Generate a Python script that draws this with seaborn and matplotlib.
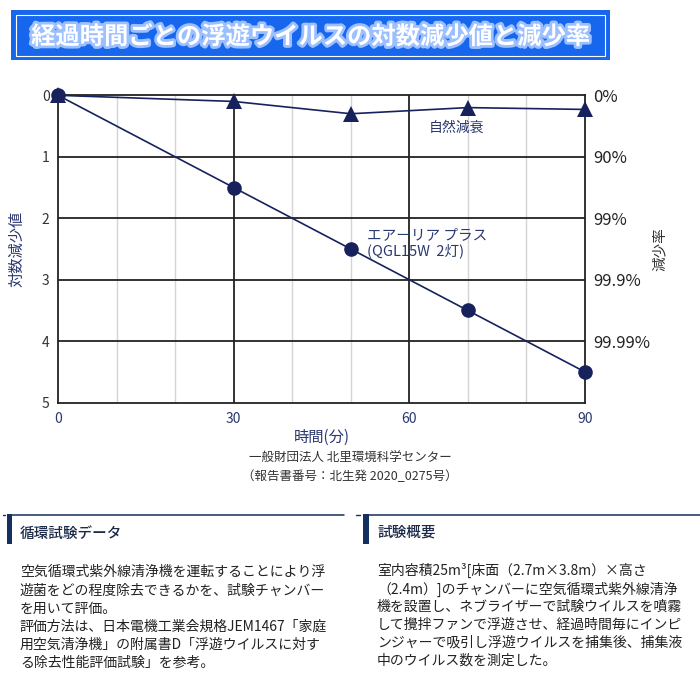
import pandas as pd
import matplotlib
matplotlib.use("Agg")
import matplotlib.pyplot as plt
import matplotlib.patheffects as pe
from matplotlib.patches import Rectangle
from matplotlib.lines import Line2D
import seaborn as sns

# data
time_min = [0, 30, 50, 70, 90]
airlia_log = [0, 1.5, 2.5, 3.5, 4.5]
natural_log = [0, 0.1, 0.3, 0.2, 0.23]
left_ticks = [0, 1, 2, 3, 4, 5]
right_ticks = [0, 1, 2, 3, 4]
right_labels = ["0%", "90%", "99%", "99.9%", "99.99%"]
x_ticks = [0, 30, 60, 90]

title = "経過時間ごとの浮遊ウイルスの対数減少値と減少率"
source_lines = ["一般財団法人 北里環境科学センター", "（報告書番号：北生発 2020_0275号）"]
left_head = "循環試験データ"
left_body = ["空気循環式紫外線清浄機を運転することにより浮",
             "遊菌をどの程度除去できるかを、試験チャンバー",
             "を用いて評価。",
             "評価方法は、日本電機工業会規格JEM1467「家庭",
             "用空気清浄機」の附属書D「浮遊ウイルスに対す",
             "る除去性能評価試験」を参考。"]
right_head = "試験概要"
right_body = ["室内容積25m³[床面（2.7m×3.8m）×高さ",
              "（2.4m）]のチャンバーに空気循環式紫外線清浄",
              "機を設置し、ネブライザーで試験ウイルスを噴霧",
              "して攪拌ファンで浮遊させ、経過時間毎にインピ",
              "ンジャーで吸引し浮遊ウイルスを捕集後、捕集液",
              "中のウイルス数を測定した。"]

sns.set_style("white")
plt.rcParams['font.family'] = ['Noto Sans CJK JP', 'DejaVu Sans']

navy = "#17225c"
W = 700.0

def fx(px):
    return px / W

def fy(py):
    return 1 - py / W

fig = plt.figure(figsize=(7, 7), dpi=100)
ax = fig.add_axes([fx(58), fy(402.7), (585 - 58) / W, (402.7 - 95.3) / W])

nat_df = pd.DataFrame({"time": time_min, "log": natural_log})
air_df = pd.DataFrame({"time": time_min, "log": airlia_log})

# grid first
for xv in [10, 20, 40, 50, 70, 80]:
    ax.axvline(xv, color="#d4d4d4", lw=1.0, zorder=0)
for xv in [30, 60]:
    ax.axvline(xv, color="#222222", lw=1.3, zorder=1)
for yv in [1, 2, 3, 4]:
    ax.axhline(yv, color="#222222", lw=1.3, zorder=1)

sns.lineplot(data=nat_df, x="time", y="log", color=navy, marker="^",
             markersize=12, markeredgewidth=0, linewidth=1.2,
             ax=ax, zorder=3, clip_on=False)
sns.lineplot(data=air_df, x="time", y="log", color=navy, marker="o",
             markersize=10.5, markeredgewidth=0, linewidth=1.2,
             ax=ax, zorder=4, clip_on=False)

ax.set_xlim(0, 90)
ax.set_ylim(5, 0)
ax.set_xticks(x_ticks)
ax.set_yticks(left_ticks)
ax.tick_params(axis="y", labelsize=10, colors="#333333", length=0, pad=6)
ax.tick_params(axis="x", labelsize=10, colors="#2a3870", length=0, pad=7)
for s in ax.spines.values():
    s.set_color("#222222")
    s.set_linewidth(1.3)
ax.set_xlabel("時間(分)", fontsize=11, color="#2a3870", labelpad=2)
ax.set_ylabel("対数減少値", fontsize=11, color="#2a3870", labelpad=12)

ax2 = ax.twinx()
ax2.set_ylim(5, 0)
ax2.set_yticks(right_ticks)
ax2.set_yticklabels(right_labels)
ax2.tick_params(axis="y", labelsize=12, colors="#222222", length=0, pad=6)
for s in ax2.spines.values():
    s.set_visible(False)
ax2.set_ylabel("減少率", fontsize=10.5, color="#333333", rotation=90, labelpad=2)

ax.text(68, 0.53, "自然減衰", fontsize=10, color="#2a3870", ha="center", va="center")
ax.text(52.8, 2.4, "エアーリア プラス\n(QGL15W  2灯)", fontsize=10.5, color="#2a3870",
        ha="left", va="center", linespacing=1.1)

# title banner
fig.patches.append(Rectangle((fx(11), fy(60)), 599 / W, 50 / W, transform=fig.transFigure,
                             facecolor="#1766ee", edgecolor="none", zorder=0))
fig.patches.append(Rectangle((fx(16), fy(55.5)), 589 / W, 40.5 / W, transform=fig.transFigure,
                             facecolor="none", edgecolor="white", lw=0.8, zorder=1))
fig.text(fx(310), fy(37), title, fontsize=17.5, fontweight="bold", color="white",
         ha="center", va="center",
         path_effects=[pe.withStroke(linewidth=4, foreground="#9cc0ff")])

# source note
fig.text(fx(350), fy(458), source_lines[0], fontsize=9, color="#333333", ha="center", va="center")
fig.text(fx(350), fy(477), source_lines[1], fontsize=9, color="#333333", ha="center", va="center")

# bottom panels
box_col = "#13305e"
fig.lines.append(Line2D([fx(3), fx(5)], [fy(515), fy(515)], transform=fig.transFigure, color=box_col, lw=1))
fig.lines.append(Line2D([fx(12), fx(344)], [fy(515), fy(515)], transform=fig.transFigure, color=box_col, lw=1.1))
fig.patches.append(Rectangle((fx(7), fy(544)), 5 / W, 30 / W, transform=fig.transFigure,
                             facecolor=box_col, edgecolor="none"))
fig.lines.append(Line2D([fx(356), fx(360)], [fy(515), fy(515)], transform=fig.transFigure, color=box_col, lw=1))
fig.lines.append(Line2D([fx(369), fx(700)], [fy(515), fy(515)], transform=fig.transFigure, color=box_col, lw=1.1))
fig.patches.append(Rectangle((fx(363), fy(544)), 5.5 / W, 30 / W, transform=fig.transFigure,
                             facecolor=box_col, edgecolor="none"))

fig.text(fx(20), fy(534), left_head, fontsize=10.5, fontweight="medium", color="#1c2a48", ha="left", va="center")
fig.text(fx(377), fy(533), right_head, fontsize=10.5, fontweight="medium", color="#1c2a48", ha="left", va="center")
for yy, t in zip([572, 591, 609, 627, 645, 663], left_body):
    fig.text(fx(20), fy(yy), t, fontsize=10, color="#222222", ha="left", va="center")
for yy, t in zip([570, 589, 607, 625, 643, 661], right_body):
    fig.text(fx(377), fy(yy), t, fontsize=10, color="#222222", ha="left", va="center")

fig.savefig("out.png", dpi=100)
